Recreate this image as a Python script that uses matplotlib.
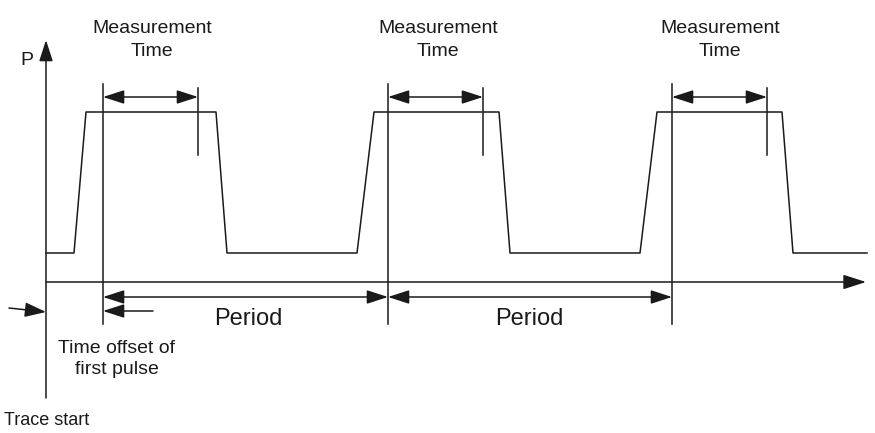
import matplotlib
matplotlib.use("Agg")
import matplotlib.pyplot as plt

plt.rcParams['font.family'] = ['Liberation Sans', 'DejaVu Sans']

# Diagram coordinates are in image pixels (x to the right, y downwards)
# pulse trace (time, power)
trace_t = [46, 74, 86, 216, 227, 357, 374, 499, 510, 640, 657, 782, 793, 867]
trace_p = [253, 253, 112, 112, 253, 253, 112, 112, 253, 253, 112, 112, 253, 253]

# measurement windows: start and end of each window
meas_start = [103, 388, 672]
meas_end = [198, 483, 767]
meas_text_x = [152, 438, 720]

# period arrows and labels
period_bounds = [(103, 388), (388, 672)]
period_text_x = [248, 529]

# axes of the diagram
y_axis_x = 46
time_axis_y = 282
time_axis_end = 866
p_axis_top = 40
p_axis_bottom = 398

fig = plt.figure(figsize=(8.75, 4.33), dpi=100)
ax = fig.add_axes([0, 0, 1, 1])
ax.set_xlim(0, 875)
ax.set_ylim(433, 0)
ax.axis('off')

col = '#1a1a1a'
lw = 1.1


def arrow(x0, y0, x1, y1, style='-|>', hl=1.3, hw=0.42):
    ax.annotate('', xy=(x1, y1), xytext=(x0, y0),
                arrowprops=dict(arrowstyle=f'{style},head_length={hl},head_width={hw}',
                                color=col, lw=lw, shrinkA=0, shrinkB=0,
                                mutation_scale=10))


# axes
arrow(y_axis_x, p_axis_bottom, y_axis_x, p_axis_top, hl=1.3, hw=0.42)
arrow(y_axis_x, time_axis_y, time_axis_end, time_axis_y, hl=1.4, hw=0.45)

# trace
ax.plot(trace_t, trace_p, color=col, lw=lw)

# measurement windows
for s, e, tx in zip(meas_start, meas_end, meas_text_x):
    ax.plot([s, s], [84, 324], color=col, lw=lw)
    ax.plot([e, e], [88, 155], color=col, lw=lw)
    arrow(s, 97, e, 97, style='<|-|>')
    ax.text(tx, 33, 'Measurement', ha='center', va='baseline', fontsize=14, color=col)
    ax.text(tx, 56, 'Time', ha='center', va='baseline', fontsize=14, color=col)

# periods
for (a, b), tx in zip(period_bounds, period_text_x):
    arrow(a, 297, b, 297, style='<|-|>')
    ax.text(tx, 325, 'Period', ha='center', va='baseline', fontsize=17, color=col)

# time offset of first pulse
arrow(153, 311, meas_start[0], 311)
arrow(9, 308, y_axis_x, 312, hw=0.45)
ax.text(117, 353, 'Time offset of', ha='center', va='baseline', fontsize=14, color=col)
ax.text(117, 374, 'first pulse', ha='center', va='baseline', fontsize=14, color=col)

ax.text(4, 425, 'Trace start', ha='left', va='baseline', fontsize=13, color=col)
ax.text(20, 65, 'P', ha='left', va='baseline', fontsize=14, color=col)

fig.savefig('out.png', dpi=100)
